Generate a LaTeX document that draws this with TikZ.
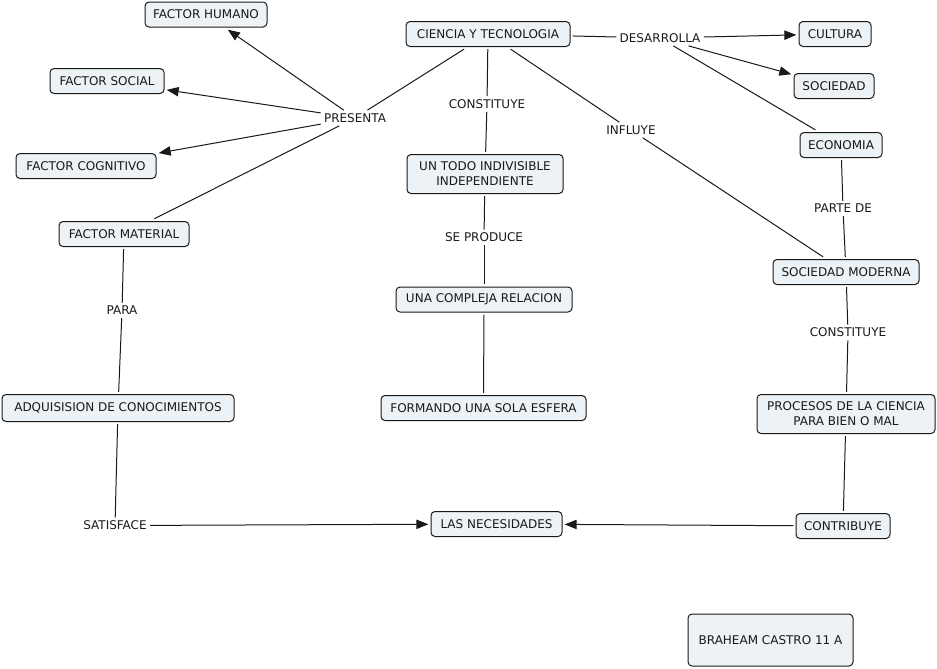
\documentclass[tikz,border=0pt]{standalone}
\usepackage{fontspec}
\setmainfont{DejaVu Sans}
\usetikzlibrary{arrows.meta}
\definecolor{boxfill}{RGB}{236,242,245}
\definecolor{ink}{RGB}{25,25,25}
\begin{document}
\begin{tikzpicture}[x=0.75pt,y=-0.75pt,
 every node/.style={font=\fontsize{9}{11.25}\selectfont, text=ink},
 concept/.style={draw=ink, fill=boxfill, rounded corners=3pt, line width=0.75pt, minimum height=18.75pt, inner sep=0pt, outer sep=2pt, align=center},
 link/.style={inner sep=1.5pt, outer sep=1pt},
 conn/.style={draw=ink, line width=0.75pt},
 arr/.style={conn, -{Triangle[length=9pt,width=7pt]}}
]
\useasboundingbox (0,0) rectangle (937,668);
\node[concept, minimum width=91.5pt] (hum) at (206,14.5) {FACTOR HUMANO};
\node[concept, minimum width=85.5pt] (soc) at (107,81) {FACTOR SOCIAL};
\node[concept, minimum width=105pt] (cog) at (86,166) {FACTOR COGNITIVO};
\node[concept, minimum width=97.5pt] (mat) at (124,234) {FACTOR MATERIAL};
\node[link] (pres) at (355,118) {PRESENTA};
\node[concept, minimum width=123pt] (cyt) at (488,34) {CIENCIA Y TECNOLOGIA};
\node[link] (des) at (660,38) {DESARROLLA};
\node[concept, minimum width=54pt] (cul) at (835,34) {CULTURA};
\node[concept, minimum width=60pt] (sod) at (834,86) {SOCIEDAD};
\node[concept, minimum width=61.5pt] (eco) at (841,145) {ECONOMIA};
\node[link] (cons1) at (487,104) {CONSTITUYE};
\node[link] (inf) at (631,130) {INFLUYE};
\node[concept, minimum width=117pt, minimum height=29.25pt] (todo) at (485,174) {UN TODO INDIVISIBLE\\INDEPENDIENTE};
\node[link] (sep) at (484,237.5) {SE PRODUCE};
\node[concept, minimum width=132pt] (rel) at (484,299.5) {UNA COMPLEJA RELACION};
\node[concept, minimum width=153.75pt] (esf) at (483.5,408) {FORMANDO UNA SOLA ESFERA};
\node[link] (par) at (843,208.5) {PARTE DE};
\node[concept, minimum width=109.5pt] (som) at (846,272) {SOCIEDAD MODERNA};
\node[link] (cons2) at (848,332.5) {CONSTITUYE};
\node[concept, minimum width=133.5pt, minimum height=29.25pt] (pro) at (846,414) {PROCESOS DE LA CIENCIA\\PARA BIEN O MAL};
\node[concept, minimum width=70.5pt] (con) at (843,526) {CONTRIBUYE};
\node[concept, minimum width=98.25pt] (nec) at (496.5,524) {LAS NECESIDADES};
\node[link] (sat) at (115,525.5) {SATISFACE};
\node[link] (para) at (122,310.5) {PARA};
\node[concept, minimum width=174pt, minimum height=20.25pt] (adq) at (118,408) {ADQUISISION DE CONOCIMIENTOS};
\node[concept, minimum width=123.75pt, minimum height=39pt] (bra) at (770.5,640) {BRAHEAM CASTRO 11 A};

\draw[conn] (cyt) -- (pres);
\draw[arr] (pres) -- (hum);
\draw[arr] (pres) -- (soc);
\draw[arr] (pres) -- (cog);
\draw[conn] (pres) -- (mat);
\draw[conn] (cyt) -- (des);
\draw[arr] (des) -- (cul);
\draw[arr] (des) -- (sod);
\draw[conn] (des) -- (eco);
\draw[conn] (cyt) -- (cons1);
\draw[conn] (cons1) -- (todo);
\draw[conn] (cyt) -- (inf);
\draw[conn] (inf) -- (som);
\draw[conn] (eco) -- (par);
\draw[conn] (par) -- (som);
\draw[conn] (som) -- (cons2);
\draw[conn] (cons2) -- (pro);
\draw[conn] (pro) -- (con);
\draw[arr] (con) -- (nec);
\draw[conn] (todo) -- (sep);
\draw[conn] (sep) -- (rel);
\draw[conn] (rel) -- (esf);
\draw[conn] (mat) -- (para);
\draw[conn] (para) -- (adq);
\draw[conn] (adq) -- (sat);
\draw[arr] (sat) -- (nec);
\end{tikzpicture}
\end{document}
